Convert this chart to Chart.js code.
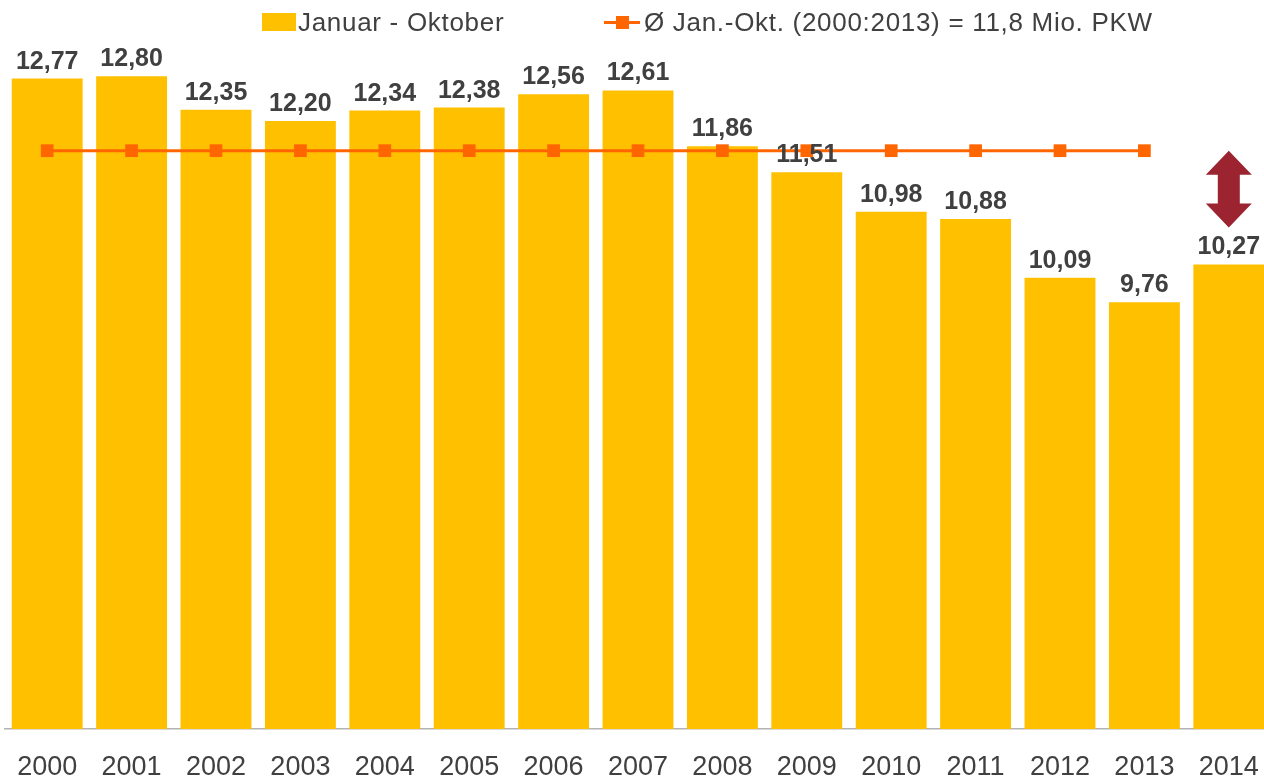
<!DOCTYPE html>
<html lang="de">
<head>
    <meta charset="UTF-8">
    <title>PKW Januar - Oktober</title>
    <script src="https://cdn.jsdelivr.net/npm/chart.js"></script>
    <style>
        body {
            margin: 0;
            overflow: hidden;
            font-family: "Liberation Sans", Arial, sans-serif;
            background: #fff;
        }
        #wrap {
            position: relative;
            width: 1264px;
            height: 780px;
            overflow: hidden;
        }
        #pkwChart {
            position: absolute;
            left: -4px;
            top: 0;
        }
        .legend-item {
            position: absolute;
            top: 4px;
            height: 36px;
            line-height: 36px;
            font-size: 26px;
            letter-spacing: 0.7px;
            color: #404040;
            white-space: nowrap;
        }
        .swatch {
            position: absolute;
        }
    </style>
</head>
<body>
<div id="wrap">
    <!-- canvas a little wider than the window: the last bar touches the right edge -->
    <canvas id="pkwChart" width="1284" height="780"></canvas>
    <div class="swatch" style="left:262px;top:13px;width:34px;height:18px;background:#FFC000;"></div>
    <div class="legend-item" style="left:298px;">Januar - Oktober</div>
    <div class="swatch" style="left:604px;top:21px;width:36px;height:3px;background:#FF6600;"></div>
    <div class="swatch" style="left:616px;top:16px;width:13px;height:13px;background:#FF6600;"></div>
    <div class="legend-item" style="left:644px;">Ø Jan.-Okt. (2000:2013) = 11,8 Mio. PKW</div>
</div>

<script>
const years = ['2000', '2001', '2002', '2003', '2004', '2005', '2006', '2007',
               '2008', '2009', '2010', '2011', '2012', '2013', '2014'];
const janOkt = [12.77, 12.80, 12.35, 12.20, 12.34, 12.38, 12.56, 12.61,
                11.86, 11.51, 10.98, 10.88, 10.09, 9.76, 10.27];
const average = [11.8, 11.8, 11.8, 11.8, 11.8, 11.8, 11.8, 11.8,
                 11.8, 11.8, 11.8, 11.8, 11.8, 11.8, null];

// value labels above the bars + the red double arrow on 2014
const annotations = {
    id: 'annotations',
    afterDraw(chart) {
        const ctx = chart.ctx;
        const x = chart.scales.x;
        const y = chart.scales.y;
        const bars = chart.getDatasetMeta(1).data;

        ctx.save();
        ctx.font = 'bold 25px "Liberation Sans", Arial, sans-serif';
        ctx.fillStyle = '#404040';
        ctx.textAlign = 'center';
        ctx.textBaseline = 'alphabetic';
        bars.forEach((bar, i) => {
            ctx.fillText(janOkt[i].toFixed(2).replace('.', ','), bar.x, bar.y - 10);
        });

        // double arrow between average and last bar
        const last = years.length - 1;
        const cx = x.getPixelForValue(last);
        const top = y.getPixelForValue(11.8);
        const bottom = y.getPixelForValue(janOkt[last]) - 37;
        const head = 24, headW = 23, shaft = 11;
        ctx.fillStyle = '#9B2430';
        ctx.beginPath();
        ctx.moveTo(cx, top);
        ctx.lineTo(cx + headW, top + head);
        ctx.lineTo(cx + shaft, top + head);
        ctx.lineTo(cx + shaft, bottom - head);
        ctx.lineTo(cx + headW, bottom - head);
        ctx.lineTo(cx, bottom);
        ctx.lineTo(cx - headW, bottom - head);
        ctx.lineTo(cx - shaft, bottom - head);
        ctx.lineTo(cx - shaft, top + head);
        ctx.lineTo(cx - headW, top + head);
        ctx.closePath();
        ctx.fill();
        ctx.restore();
    }
};

const ctx = document.getElementById('pkwChart').getContext('2d');
new Chart(ctx, {
    type: 'bar',
    data: {
        labels: years,
        datasets: [{
            type: 'line',
            label: 'Ø Jan.-Okt. (2000:2013) = 11,8 Mio. PKW',
            data: average,
            borderColor: '#FF6600',
            backgroundColor: '#FF6600',
            borderWidth: 3,
            pointStyle: 'rect',
            pointRadius: 9,
            pointBorderWidth: 0,
            fill: false,
            order: 0
        }, {
            label: 'Januar - Oktober',
            data: janOkt,
            backgroundColor: '#FFC000',
            barPercentage: 0.84,
            categoryPercentage: 1,
            order: 1
        }]
    },
    options: {
        responsive: false,
        animation: false,
        events: [],
        layout: {
            padding: { top: 60, left: 1, right: 1, bottom: 0 }
        },
        scales: {
            x: {
                grid: { display: false, drawTicks: false },
                border: { display: true, color: '#B3B3B3', width: 1.5 },
                ticks: {
                    color: '#404040',
                    padding: 25,
                    font: { family: '"Liberation Sans", Arial, sans-serif', size: 27, lineHeight: 1 }
                },
                afterFit(scale) {
                    scale.height = 51;
                    scale.paddingLeft = 0;
                    scale.paddingRight = 0;
                }
            },
            y: {
                display: false,
                min: 4.02,
                max: 13.02
            }
        },
        plugins: {
            legend: { display: false },
            tooltip: { enabled: false }
        }
    },
    plugins: [annotations]
});
</script>
</body>
</html>
